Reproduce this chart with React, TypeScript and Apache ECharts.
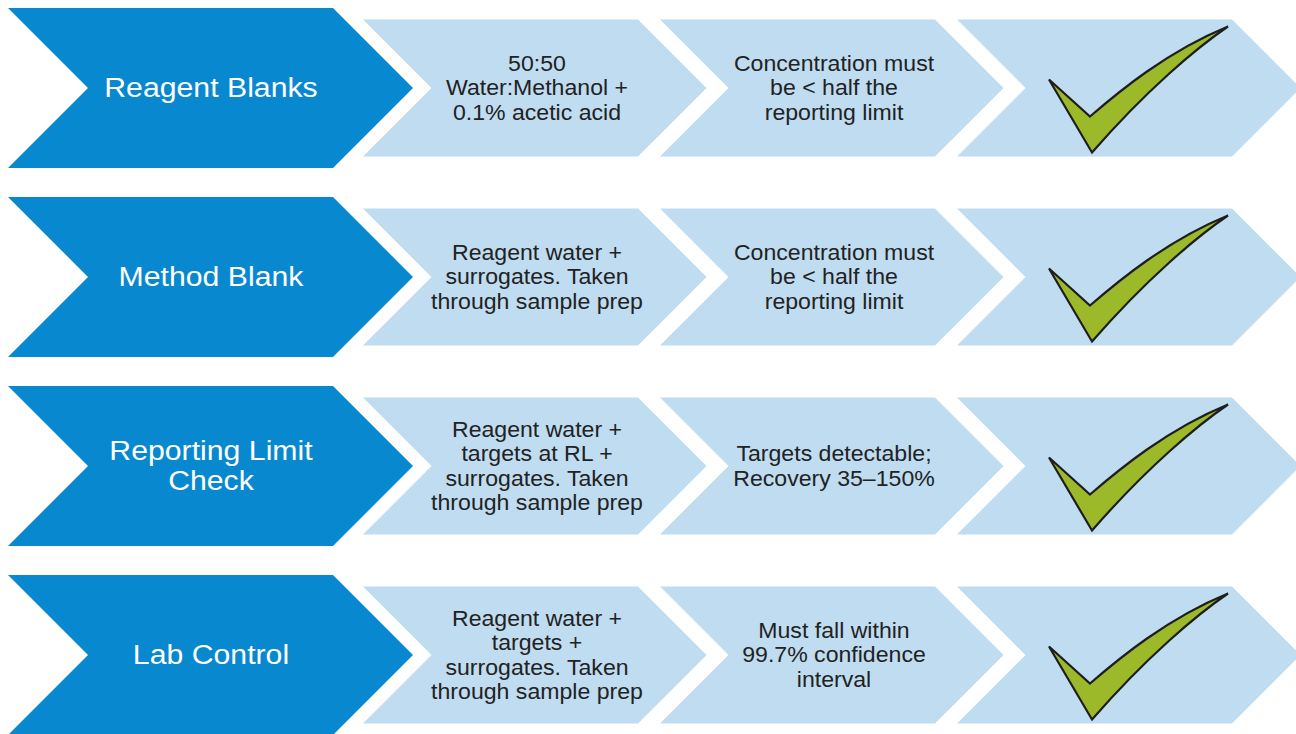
import React, { useEffect, useRef } from "react";
import * as echarts from "echarts";

// ---- Data ----
const stages = ["Reagent Blanks", "Method Blank", "Reporting Limit\nCheck", "Lab Control"];
const samples = [
  "50:50\nWater:Methanol +\n0.1% acetic acid",
  "Reagent water +\nsurrogates. Taken\nthrough sample prep",
  "Reagent water +\ntargets at RL +\nsurrogates. Taken\nthrough sample prep",
  "Reagent water +\ntargets +\nsurrogates. Taken\nthrough sample prep",
];
const criteria = [
  "Concentration must\nbe < half the\nreporting limit",
  "Concentration must\nbe < half the\nreporting limit",
  "Targets detectable;\nRecovery 35–150%",
  "Must fall within\n99.7% confidence\ninterval",
];
const passed = [1, 1, 1, 1];

// ---- Styles / layout ----
const DARK = "#0888cf";
const LIGHT = "#bfdcf1";
const GREEN = "#9cb92a";
const FONT = "'Liberation Sans', Arial, sans-serif";
const DARK_X = 8;
const DARK_BODY = 325;
const LIGHT_XS = [363, 660, 957];
const LIGHT_BODY = 275;
const CHECK_PATH =
  "M0,-8 L41,29 C70,4 118,-36 179,-61 C148,-40 98,2 43,65 Z";

function chevron(x: number, c: number, body: number, h: number) {
  return [
    [x, c - h],
    [x + body, c - h],
    [x + body + h, c],
    [x + body, c + h],
    [x, c + h],
    [x + h, c],
  ];
}

export default function App() {
  const ref = useRef<HTMLDivElement>(null);
  useEffect(() => {
    if (!ref.current) return;
    const chart = echarts.init(ref.current, undefined, { renderer: "svg" });
    const data = stages.map((_, i) => [0, i, passed[i]]);
    chart.setOption({
      animation: false,
      backgroundColor: "#ffffff",
      grid: { left: 0, right: 0, top: 0, bottom: 0 },
      xAxis: { type: "value", min: 0, max: 1296, show: false },
      yAxis: { type: "value", min: -0.4656, max: 3.418, inverse: true, show: false },
      series: [
        {
          type: "custom",
          data,
          renderItem: (params: any, api: any) => {
            const i = api.value(1);
            const c = api.coord([0, i])[1];
            const band = api.size([0, 1])[1];
            const hd = band * 0.4233;
            const hl = band * 0.3625;
            const children: any[] = [];
            children.push({
              type: "polygon",
              shape: { points: chevron(DARK_X, c, DARK_BODY, hd) },
              style: { fill: DARK },
            });
            children.push({
              type: "text",
              x: 211,
              y: c,
              scaleX: 1.12,
              style: {
                text: stages[i],
                x: 0,
                y: 0,
                align: "center",
                verticalAlign: "middle",
                fontFamily: FONT,
                fontSize: 27,
                lineHeight: 30,
                fill: "#ffffff",
              },
            });
            LIGHT_XS.forEach((lx) => {
              children.push({
                type: "polygon",
                shape: { points: chevron(lx, c, LIGHT_BODY, hl) },
                style: { fill: LIGHT },
              });
            });
            [samples[i], criteria[i]].forEach((t, k) => {
              children.push({
                type: "text",
                x: LIGHT_XS[k] + 174,
                y: c,
                scaleX: 1.05,
                style: {
                  text: t,
                  x: 0,
                  y: 0,
                  align: "center",
                  verticalAlign: "middle",
                  fontFamily: FONT,
                  fontSize: 22,
                  lineHeight: 24.5,
                  fill: "#222222",
                },
              });
            });
            if (api.value(2)) {
              children.push({
                type: "path",
                x: 1049,
                y: c - 0.5,
                shape: { pathData: CHECK_PATH },
                style: { fill: GREEN, stroke: "#1e1e1e", lineWidth: 2.2, lineJoin: "miter" },
              });
            }
            return { type: "group", children };
          },
        },
      ],
    });
    return () => chart.dispose();
  }, []);
  return (
    <div
      ref={ref}
      style={{ position: "fixed", left: 0, top: 0, width: 1296, height: 734 }}
    />
  );
}
